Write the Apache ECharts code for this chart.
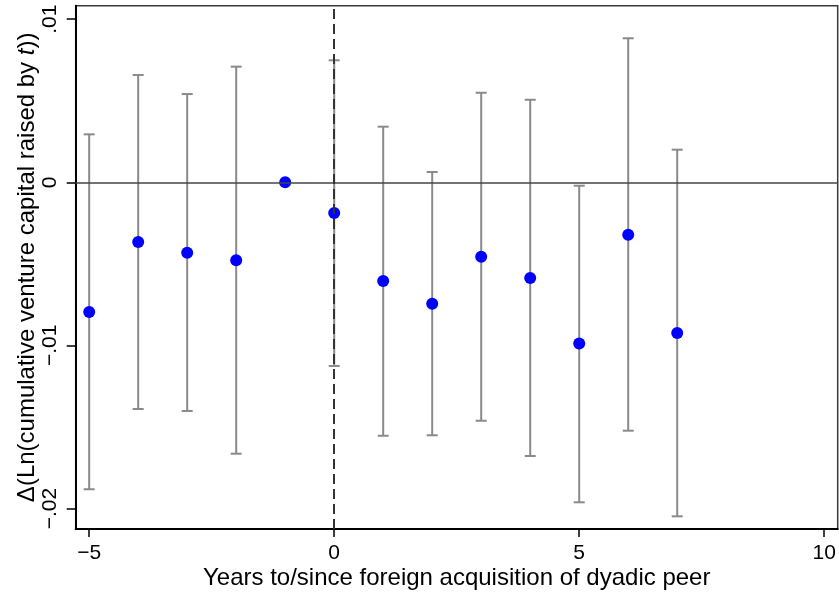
<!DOCTYPE html>
<html>
<head>
<meta charset="utf-8">
<script src="https://cdn.jsdelivr.net/npm/echarts@6/dist/echarts.min.js"></script>
<style>
  html, body { margin: 0; padding: 0; background: #fff; }
  #chart { width: 839px; height: 594px; }
</style>
</head>
<body>
<div id="chart"></div>
<script>
// Event-time coefficients and 95% confidence bounds
const years = [-5, -4, -3, -2, -1, 0, 1, 2, 3, 4, 5, 6, 7];
const coef = [-0.00795, -0.00366, -0.00432, -0.00478, 0, -0.00188, -0.00605, -0.00744, -0.00456, -0.00587, -0.00989, -0.00321, -0.00924];
// year -1 is the omitted reference period, so it has no interval
const ciLow = [-0.01882, -0.01390, -0.01402, -0.01664, null, -0.01126, -0.01554, -0.01551, -0.01462, -0.01678, -0.01962, -0.01523, -0.02048];
const ciHigh = [0.00294, 0.00658, 0.00541, 0.00709, null, 0.00748, 0.00341, 0.00063, 0.00549, 0.00506, -0.00021, 0.00883, 0.00200];

const xTicks = [-5, 0, 5, 10];
const yTicks = [-0.02, -0.01, 0, 0.01];

const FONT = '"Liberation Sans", Arial, Helvetica, sans-serif';

function fmtY(v) {
  if (Math.abs(v) < 1e-12) return '0';
  const s = Math.abs(v).toFixed(2).replace(/^0/, '');
  return (v < 0 ? '\u2212' : '') + s;
}
function fmtX(v) {
  return (v < 0 ? '\u2212' : '') + Math.abs(v);
}

const barData = [];
years.forEach((y, i) => {
  if (ciLow[i] !== null) barData.push([y, ciLow[i], ciHigh[i]]);
});
const pointData = years.map((y, i) => [y, coef[i]]);

const chart = echarts.init(document.getElementById('chart'), null, { renderer: 'canvas' });
chart.setOption({
  animation: false,
  backgroundColor: '#ffffff',
  grid: {
    left: 75.7, right: 1.3, top: 5.7, bottom: 65,
    outerBoundsMode: 'none',
    containLabel: false,
    show: true, borderColor: '#3a3a3a', borderWidth: 1.5, backgroundColor: 'transparent'
  },
  xAxis: {
    type: 'value',
    min: -5.275, max: 10.275,
    splitLine: { show: false },
    axisLine: { show: true, onZero: false, lineStyle: { color: '#000', width: 2 } },
    axisTick: { show: true, customValues: xTicks, length: 8, lineStyle: { color: '#000', width: 1.5 } },
    axisLabel: {
      customValues: xTicks, formatter: fmtX, margin: 14,
      color: '#000', fontFamily: FONT, fontSize: 21
    },
    name: 'Years to/since foreign acquisition of dyadic peer',
    nameLocation: 'middle', nameGap: 37, nameMoveOverlap: false,
    nameTextStyle: { color: '#000', fontFamily: FONT, fontSize: 24 }
  },
  yAxis: {
    type: 'value',
    min: -0.021257, max: 0.010827,
    splitLine: { show: false },
    axisLine: { show: true, onZero: false, lineStyle: { color: '#000', width: 2 } },
    axisTick: { show: true, customValues: yTicks, length: 9, lineStyle: { color: '#000', width: 1.5 } },
    axisLabel: {
      customValues: yTicks, formatter: fmtY, rotate: 90, margin: 15,
      color: '#000', fontFamily: FONT, fontSize: 21
    },
    name: '{n|\u0394(Ln(cumulative venture capital raised by }{i|t}{n|))}',
    nameLocation: 'middle', nameGap: 36, nameRotate: 90, nameMoveOverlap: false,
    nameTextStyle: {
      color: '#000', fontFamily: FONT, fontSize: 24,
      rich: {
        n: { color: '#000', fontFamily: FONT, fontSize: 24 },
        i: { color: '#000', fontFamily: FONT, fontSize: 24, fontStyle: 'italic' }
      }
    }
  },
  series: [
    {
      // reference lines: y = 0 and the event date
      type: 'line',
      data: [],
      silent: true,
      markLine: {
        silent: true,
        symbol: 'none',
        label: { show: false },
        animation: false,
        data: [
          { yAxis: 0, lineStyle: { color: '#444444', width: 1.6, type: 'solid', opacity: 1 } },
          { xAxis: 0, lineStyle: { color: '#333333', width: 2, type: [10, 5], opacity: 1 } }
        ]
      },
      z: 1
    },
    {
      type: 'custom',
      z: 2,
      data: barData,
      encode: { x: 0, y: [1, 2] },
      renderItem: function (params, api) {
        const x = api.value(0);
        const lo = api.coord([x, api.value(1)]);
        const hi = api.coord([x, api.value(2)]);
        const cap = 5.5;
        const style = { stroke: '#8a8a8a', lineWidth: 2 };
        return {
          type: 'group',
          children: [
            { type: 'line', shape: { x1: lo[0], y1: lo[1], x2: hi[0], y2: hi[1] }, style: style },
            { type: 'line', shape: { x1: lo[0] - cap, y1: lo[1], x2: lo[0] + cap, y2: lo[1] }, style: style },
            { type: 'line', shape: { x1: hi[0] - cap, y1: hi[1], x2: hi[0] + cap, y2: hi[1] }, style: style }
          ]
        };
      }
    },
    {
      type: 'scatter',
      z: 3,
      data: pointData,
      symbol: 'circle',
      symbolSize: 12,
      itemStyle: { color: '#0000ff', borderWidth: 0, opacity: 1 }
    }
  ]
});
</script>
</body>
</html>
